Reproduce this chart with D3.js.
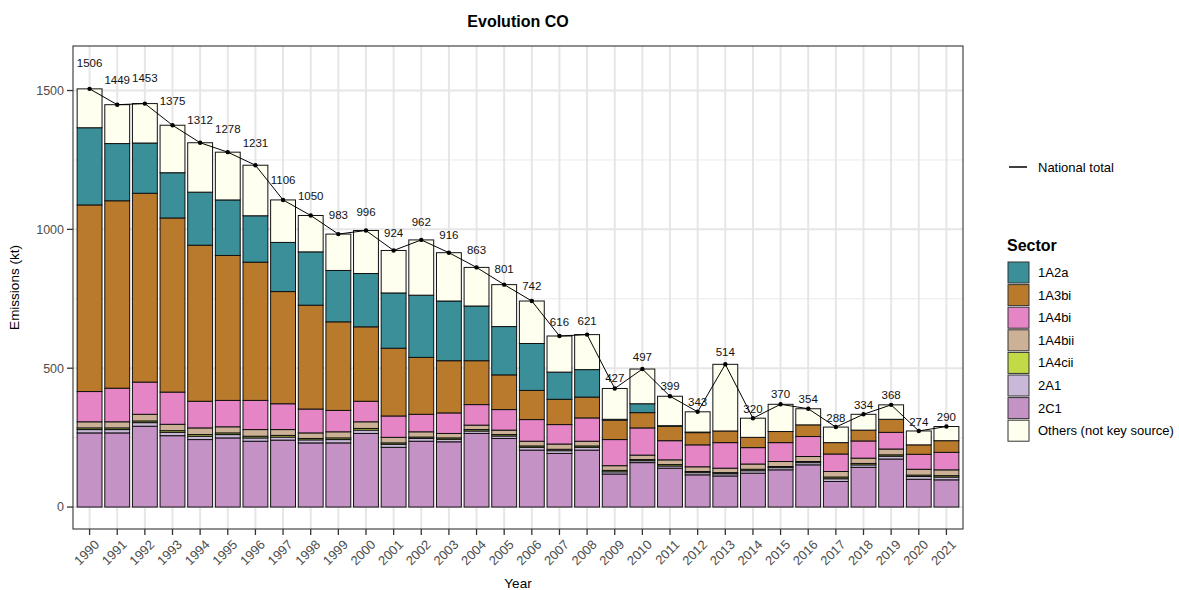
<!DOCTYPE html>
<html>
<head>
<meta charset="utf-8">
<script src="https://cdn.jsdelivr.net/npm/d3@7"></script>
<style>
  html, body { margin: 0; padding: 0; background: #fff; }
  text { font-family: "Liberation Sans", Arial, sans-serif; }
</style>
</head>
<body>
<svg id="chart" width="1179" height="590"></svg>
<script>
const years = ["1990","1991","1992","1993","1994","1995","1996","1997","1998","1999","2000","2001","2002","2003","2004","2005","2006","2007","2008","2009","2010","2011","2012","2013","2014","2015","2016","2017","2018","2019","2020","2021"];

const nationalTotal = [1506,1449,1453,1375,1312,1278,1231,1106,1050,983,996,924,962,916,863,801,742,616,621,427,497,399,343,514,320,370,354,288,334,368,274,290];

const s2C1    = [267,267,291,257,243,249,237,241,231,231,265,215,237,235,265,247,205,193,205,119,160,140,116,112,122,134,152,92,143,173,100,98];
const s2A1    = [12,12,13,12,12,12,12,11,11,12,12,11,10,9,9,9,10,10,10,8,7,8,8,8,9,8,8,10,9,10,10,10];
const s1A4cii = [6,6,6,6,6,6,6,6,5,6,6,5,5,5,5,5,5,5,5,5,4,5,4,4,5,4,4,6,5,5,5,5];
const s1A4bii = [22,22,24,23,24,22,24,21,20,22,24,20,19,16,16,16,17,19,17,17,16,17,17,16,19,18,18,20,19,21,21,21];
const s1A4bi  = [109,121,116,116,96,95,105,93,86,77,74,77,63,74,74,74,78,70,84,94,98,69,79,92,59,68,72,63,62,60,54,63];
const s1A3bi  = [672,675,680,627,562,522,498,404,374,319,268,244,205,188,158,125,105,91,75,70,55,52,44,42,37,40,42,41,39,47,34,42];
const s1A2a   = [278,206,181,163,191,200,167,177,192,185,192,199,224,215,197,174,169,98,99,3,32,2,2,0,0,0,0,0,0,0,0,0];
const sOthers = [140,140,142,171,178,172,182,153,131,131,155,153,199,174,139,151,153,130,126,111,125,106,73,240,69,98,58,56,57,52,50,51];

const yTicks = [0, 500, 1000, 1500];
const yMinor = [250, 750, 1250];

const legendOrder = ["1A2a","1A3bi","1A4bi","1A4bii","1A4cii","2A1","2C1","Others (not key source)"];
const stackOrder  = ["2C1","2A1","1A4cii","1A4bii","1A4bi","1A3bi","1A2a","Others (not key source)"];
const colors = {
  "1A2a": "#3B8F98",
  "1A3bi": "#BA7A2C",
  "1A4bi": "#E585C6",
  "1A4bii": "#CDB196",
  "1A4cii": "#C3DA47",
  "2A1": "#C9B8D8",
  "2C1": "#C492C5",
  "Others (not key source)": "#FFFFF0"
};
const seriesData = {
  "2C1": s2C1, "2A1": s2A1, "1A4cii": s1A4cii, "1A4bii": s1A4bii,
  "1A4bi": s1A4bi, "1A3bi": s1A3bi, "1A2a": s1A2a, "Others (not key source)": sOthers
};

(function () {
const table = years.map((yr, i) => {
  const row = { year: yr, total: nationalTotal[i] };
  stackOrder.forEach(k => row[k] = seriesData[k][i]);
  return row;
});

const svg = d3.select("#chart");
svg.append("rect").attr("width", 1179).attr("height", 590).attr("fill", "#fff");

const pLeft = 73, pRight = 963, pTop = 46, pBottom = 529;

const x = d3.scalePoint().domain(years).range([pLeft, pRight]).padding(0.6);
const bw = x.step() * 0.9;

const topVal = d3.max(nationalTotal) * 1.05;
const pad = topVal * 0.05;
const y = d3.scaleLinear().domain([-pad, topVal + pad]).range([pBottom, pTop]);

// gridlines
const grid = svg.append("g");
grid.selectAll(".minor").data(yMinor).join("line")
  .attr("x1", pLeft).attr("x2", pRight)
  .attr("y1", d => y(d)).attr("y2", d => y(d))
  .attr("stroke", "#EBEBEB").attr("stroke-width", 1);
grid.selectAll(".major").data(yTicks).join("line")
  .attr("x1", pLeft).attr("x2", pRight)
  .attr("y1", d => y(d)).attr("y2", d => y(d))
  .attr("stroke", "#E6E6E6").attr("stroke-width", 2);
grid.selectAll(".vx").data(years).join("line")
  .attr("x1", d => x(d)).attr("x2", d => x(d))
  .attr("y1", pTop).attr("y2", pBottom)
  .attr("stroke", "#E6E6E6").attr("stroke-width", 2);

// stacked bars
const stack = d3.stack().keys(stackOrder);
const layers = stack(table);
svg.append("g").selectAll("g").data(layers).join("g")
  .attr("fill", d => colors[d.key])
  .selectAll("rect").data(d => d).join("rect")
  .attr("x", d => x(d.data.year) - bw / 2)
  .attr("width", bw)
  .attr("y", d => y(d[1]))
  .attr("height", d => Math.max(0, y(d[0]) - y(d[1])))
  .attr("stroke", "#111").attr("stroke-width", 1);

// total line
const line = d3.line().x(d => x(d.year)).y(d => y(d.total));
svg.append("path").datum(table).attr("d", line)
  .attr("fill", "none").attr("stroke", "#000").attr("stroke-width", 1);
svg.append("g").selectAll("circle").data(table).join("circle")
  .attr("cx", d => x(d.year)).attr("cy", d => y(d.total)).attr("r", 2.2).attr("fill", "#000");

// labels
svg.append("g").selectAll("text").data(table).join("text")
  .attr("x", d => x(d.year)).attr("y", d => y(d.total * 1.05) - 1)
  .attr("text-anchor", "middle").attr("font-size", 11.5).attr("fill", "#111")
  .text(d => d.total);

// panel border
svg.append("rect").attr("x", pLeft).attr("y", pTop).attr("width", pRight - pLeft).attr("height", pBottom - pTop)
  .attr("fill", "none").attr("stroke", "#333").attr("stroke-width", 1.1);

// y axis
const yAxis = svg.append("g");
yAxis.selectAll("line").data(yTicks).join("line")
  .attr("x1", pLeft - 6).attr("x2", pLeft).attr("y1", d => y(d)).attr("y2", d => y(d))
  .attr("stroke", "#333").attr("stroke-width", 1.3);
yAxis.selectAll("text").data(yTicks).join("text")
  .attr("x", pLeft - 9).attr("y", d => y(d)).attr("dy", "0.35em")
  .attr("text-anchor", "end").attr("font-size", 12.5).attr("fill", "#4D4D4D")
  .text(d => d);

// x axis
const xAxis = svg.append("g");
xAxis.selectAll("line").data(years).join("line")
  .attr("x1", d => x(d)).attr("x2", d => x(d)).attr("y1", pBottom).attr("y2", pBottom + 6)
  .attr("stroke", "#333").attr("stroke-width", 1.3);
xAxis.selectAll("text").data(years).join("text")
  .attr("transform", d => `translate(${x(d) + 4},${pBottom + 10}) rotate(-45)`)
  .attr("text-anchor", "end").attr("dy", "0.7em").attr("font-size", 13).attr("fill", "#4D4D4D")
  .text(d => d);

// titles
svg.append("text").attr("x", (pLeft + pRight) / 2).attr("y", 27).attr("text-anchor", "middle")
  .attr("font-size", 16).attr("font-weight", "bold").attr("fill", "#000").text("Evolution CO");
svg.append("text").attr("x", (pLeft + pRight) / 2).attr("y", 588).attr("text-anchor", "middle")
  .attr("font-size", 13.5).attr("fill", "#000").text("Year");
svg.append("text").attr("transform", `translate(19,${(pTop + pBottom) / 2}) rotate(-90)`)
  .attr("text-anchor", "middle").attr("font-size", 13.5).attr("fill", "#000").text("Emissions (kt)");

// legend: national total
const lg = svg.append("g");
lg.append("line").attr("x1", 1009).attr("x2", 1027).attr("y1", 167).attr("y2", 167)
  .attr("stroke", "#000").attr("stroke-width", 1.5);
lg.append("text").attr("x", 1038).attr("y", 167).attr("dy", "0.35em").attr("font-size", 13).text("National total");

// legend: sector
lg.append("text").attr("x", 1007).attr("y", 251).attr("font-size", 16).attr("font-weight", "bold").text("Sector");
const keys = lg.selectAll(".key").data(legendOrder).join("g")
  .attr("transform", (d, i) => `translate(1008,${262 + i * 22.6})`);
keys.append("rect").attr("width", 21).attr("height", 21)
  .attr("fill", d => colors[d]).attr("stroke", "#333").attr("stroke-width", 1);
keys.append("text").attr("x", 30).attr("y", 10.5).attr("dy", "0.35em").attr("font-size", 13).text(d => d);
})();
</script>
</body>
</html>
